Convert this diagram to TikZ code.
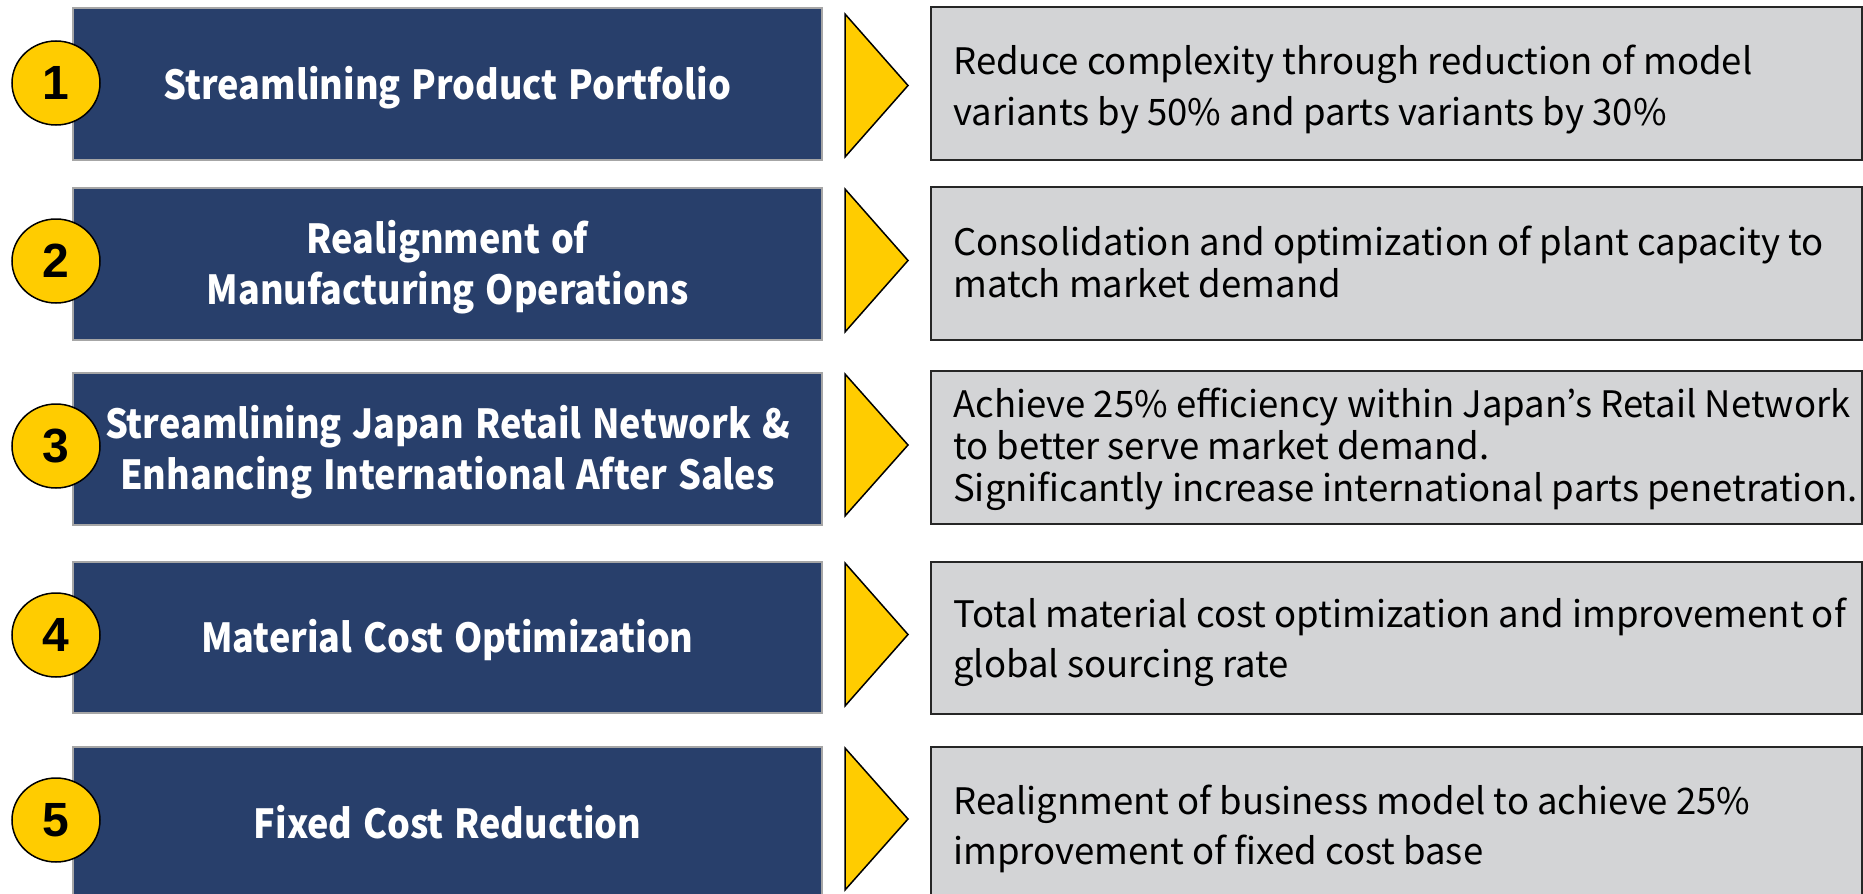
\documentclass[tikz,border=0pt]{standalone}
\usepackage{fontspec}
\setmainfont{Noto Sans CJK JP}
\newfontfamily\headfont{Noto Sans CJK JP}[FakeStretch=0.9, WordSpace=1.3]
\newfontfamily\digitfont{Liberation Sans}
\usetikzlibrary{shapes.geometric}

\definecolor{navy}{HTML}{283F6B}
\definecolor{navyrim}{HTML}{A6A6A6}
\definecolor{gold}{HTML}{FFCC00}
\definecolor{panelgray}{HTML}{D3D4D6}
\definecolor{panelrim}{HTML}{262626}

\tikzset{
  headbox/.style={draw=navyrim, line width=2pt, fill=navy, text=white,
    minimum width=749pt, inner sep=0pt, align=center,
    text height=40pt, text depth=10pt,
    font=\headfont\bfseries\fontsize{40}{51}\selectfont},
  twolines/.style={text height=91pt},
  notebox/.style={draw=panelrim, line width=2pt, fill=panelgray,
    minimum width=931pt, inner sep=0pt},
  noteline/.style={anchor=base west, inner sep=0pt, text=black,
    font=\fontsize{36.5}{36.5}\selectfont},
  badge/.style={ellipse, draw=black, line width=1.5pt, fill=gold,
    minimum width=88pt, minimum height=84pt, inner sep=0pt,
    font=\digitfont\bfseries\fontsize{48}{48}\selectfont},
  chevron/.style={draw=black, line width=1.5pt, fill=gold, line join=miter}
}

\begin{document}
\begin{tikzpicture}[x=1pt, y=-1pt]
\useasboundingbox (0,0) rectangle (1863,894);
\clip (0,0) rectangle (1863,894);

% row 1
\node[headbox, minimum height=152pt] (b1) at (447.5,84) {Streamlining Product Portfolio};
\node[badge] (n1) at (56,83) {1};
\draw[chevron] (845,14) -- (908,85.5) -- (845,157) -- cycle;
\node[notebox, minimum height=153pt] (p1) at (1396.5,83.5) {};
\node[noteline] (p1a) at (953,74) {Reduce complexity through reduction of model};
\node[noteline] (p1b) at (953,125) {variants by 50\% and parts variants by 30\%};

% row 2
\node[headbox, twolines, minimum height=152pt] (b2) at (447.5,264) {Realignment of\\Manufacturing Operations};
\node[badge] (n2) at (56,261) {2};
\draw[chevron] (845,189) -- (908,260.5) -- (845,332) -- cycle;
\node[notebox, minimum height=153pt] (p2) at (1396.5,263.5) {};
\node[noteline] (p2a) at (953,255) {Consolidation and optimization of plant capacity to};
\node[noteline] (p2b) at (953,297) {match market demand};

% row 3
\node[headbox, twolines, minimum height=152pt] (b3) at (447.5,449) {Streamlining Japan Retail Network \&\\Enhancing International After Sales};
\node[badge] (n3) at (56,446) {3};
\draw[chevron] (845,374) -- (908,445) -- (845,516) -- cycle;
\node[notebox, minimum height=153pt] (p3) at (1396.5,447.5) {};
\node[noteline] (p3a) at (953,417) {Achieve 25\% efficiency within Japan’s Retail Network};
\node[noteline] (p3b) at (953,459) {to better serve market demand.};
\node[noteline] (p3c) at (953,501) {Significantly increase international parts penetration.};

% row 4
\node[headbox, minimum height=151pt] (b4) at (447.5,637.5) {Material Cost Optimization};
\node[badge] (n4) at (56,635) {4};
\draw[chevron] (845,563) -- (908,634.5) -- (845,706) -- cycle;
\node[notebox, minimum height=152pt] (p4) at (1396.5,638) {};
\node[noteline] (p4a) at (953,627) {Total material cost optimization and improvement of};
\node[noteline] (p4b) at (953,677) {global sourcing rate};

% row 5 (runs past the lower edge)
\node[headbox, minimum height=153pt] (b5) at (447.5,823.5) {Fixed Cost Reduction};
\node[badge] (n5) at (56,820) {5};
\draw[chevron] (845,748) -- (908,819) -- (845,890) -- cycle;
\node[notebox, minimum height=153pt] (p5) at (1396.5,823.5) {};
\node[noteline] (p5a) at (953,814) {Realignment of business model to achieve 25\%};
\node[noteline] (p5b) at (953,864) {improvement of fixed cost base};
\end{tikzpicture}
\end{document}
